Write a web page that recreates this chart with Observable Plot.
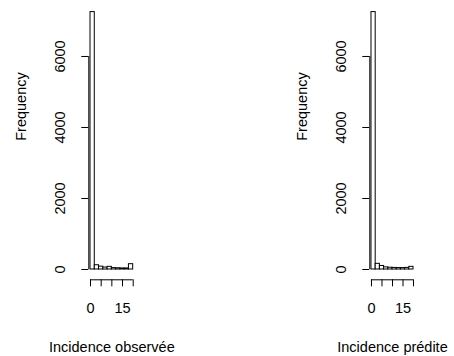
<!DOCTYPE html>
<html>
<head>
<meta charset="utf-8">
<script src="https://cdn.jsdelivr.net/npm/d3@7"></script>
<script src="https://cdn.jsdelivr.net/npm/@observablehq/plot@0.6"></script>
<style>
  html, body { margin: 0; padding: 0; background: #fff; }
  #wrap { display: flex; width: 454px; height: 356px; }
  #wrap > div { width: 227px; height: 356px; }
</style>
</head>
<body>
<div id="wrap"><div id="left"></div><div id="right"></div></div>
<script>
// Histogram bin edges (width 2)
const breaks = [0, 2, 4, 6, 8, 10, 12, 14, 16, 18, 20];
// Counts per bin
const observedCounts = [7250, 120, 80, 55, 75, 40, 35, 30, 30, 150];
const predictedCounts = [7250, 160, 100, 60, 50, 45, 40, 40, 45, 75];
// Tick values and labels
const xTicks = [0, 5, 10, 15, 20];
const xTickLabels = ["0", "", "", "15", ""];
const yTicks = [0, 2000, 4000, 6000];
const yLabel = "Frequency";
const xLabels = ["Incidence observée", "Incidence prédite"];

const font = "'Liberation Sans', Arial, Helvetica, sans-serif";
const fs = 14.5;

function hist(counts, xlabel, margins) {
  const bins = counts.map((c, i) => ({x1: breaks[i], x2: breaks[i + 1], count: c}));
  const xmin = breaks[0], xmax = breaks[breaks.length - 1];
  const xpad = 0.04 * (xmax - xmin);
  const ymax = d3.max(counts);
  const ypad = 0.04 * ymax;
  const xTickData = xTicks.map((t, i) => ({t, label: xTickLabels[i]}));
  return Plot.plot({
    width: 227,
    height: 356,
    marginLeft: margins.left,
    marginRight: margins.right,
    marginTop: 1.3,
    marginBottom: 76.7,
    style: {fontFamily: font, fontSize: fs + "px", color: "#000", background: "#fff"},
    x: {domain: [xmin - xpad, xmax + xpad], axis: null},
    y: {domain: [-ypad, ymax + ypad], axis: null},
    marks: [
      Plot.rectY(bins, {x1: "x1", x2: "x2", y1: 0, y2: "count", fill: "#fff", stroke: "#000", strokeWidth: 1}),
      // y axis line and ticks
      Plot.ruleX([xmin - xpad], {y1: d3.min(yTicks), y2: d3.max(yTicks), stroke: "#000"}),
      Plot.axisY(yTicks, {x: xmin - xpad, anchor: "left", tickSize: 7, tickFormat: () => "", label: null, stroke: "#000"}),
      Plot.text(yTicks, {x: xmin - xpad, y: d => d, text: d => String(d), rotate: -90, dx: -28, fontSize: fs, fill: "#000", textAnchor: "middle", lineAnchor: "middle"}),
      // x axis line and ticks
      Plot.ruleY([-ypad], {x1: d3.min(xTicks), x2: d3.max(xTicks), stroke: "#000"}),
      Plot.axisX(xTicks, {y: -ypad, anchor: "bottom", tickSize: 7, tickFormat: () => "", label: null, stroke: "#000"}),
      Plot.text(xTickData, {x: "t", y: -ypad, text: "label", dy: 29, fontSize: fs, fill: "#000", lineAnchor: "middle"}),
      // axis titles
      Plot.text([yLabel], {frameAnchor: "left", rotate: -90, dx: -67, fontSize: fs, fill: "#000", lineAnchor: "middle"}),
      Plot.text([xlabel], {frameAnchor: "bottom", dy: 68, fontSize: fs, fill: "#000", lineAnchor: "middle"})
    ]
  });
}

document.getElementById("left").appendChild(hist(observedCounts, xLabels[0], {left: 88.3, right: 92.6}));
document.getElementById("right").appendChild(hist(predictedCounts, xLabels[1], {left: 142.3, right: 39.3}));
</script>
</body>
</html>
